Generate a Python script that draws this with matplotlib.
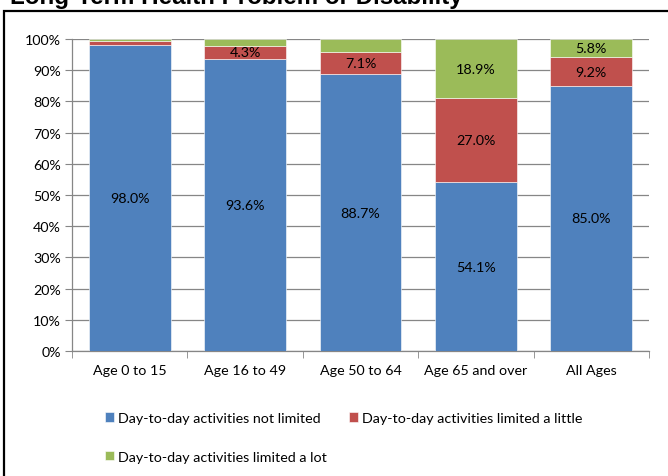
import matplotlib.pyplot as plt
import matplotlib.ticker as ticker
from matplotlib.patches import Rectangle
import numpy as np

categories = ["Age 0 to 15", "Age 16 to 49", "Age 50 to 64", "Age 65 and over", "All Ages"]
not_limited = [98.0, 93.6, 88.7, 54.1, 85.0]
limited_little = [1.4, 4.3, 7.1, 27.0, 9.2]
limited_lot = [0.6, 2.1, 4.2, 18.9, 5.8]

# which segments carry a data label
show_little = [False, True, True, True, True]
show_lot = [False, False, False, True, True]

series_names = [
    "Day-to-day activities not limited",
    "Day-to-day activities limited a little",
    "Day-to-day activities limited a lot",
]
colors = ["#4F81BD", "#C0504D", "#9BBB59"]

plt.rcParams["font.family"] = ["Lato", "DejaVu Sans"]
fs = 10.3

fig = plt.figure(figsize=(6.68, 4.77), dpi=100)
ax = fig.add_axes([0.1078, 0.262, 0.8638, 0.654])

x = np.arange(len(categories))
width = 0.71

b1 = ax.bar(x, not_limited, width, color=colors[0], edgecolor="white", linewidth=0.4,
            label=series_names[0], zorder=3)
b2 = ax.bar(x, limited_little, width, bottom=not_limited, color=colors[1],
            edgecolor="white", linewidth=0.4, label=series_names[1], zorder=3)
bottom3 = np.array(not_limited) + np.array(limited_little)
b3 = ax.bar(x, limited_lot, width, bottom=bottom3, color=colors[2],
            edgecolor="white", linewidth=0.4, label=series_names[2], zorder=3)

# data labels
for i in range(len(categories)):
    ax.text(x[i], not_limited[i] / 2, f"{not_limited[i]:.1f}%", ha="center", va="center",
            fontsize=fs, zorder=4)
    if show_little[i]:
        ax.text(x[i], not_limited[i] + limited_little[i] / 2, f"{limited_little[i]:.1f}%",
                ha="center", va="center", fontsize=fs, zorder=4)
    if show_lot[i]:
        ax.text(x[i], bottom3[i] + limited_lot[i] / 2, f"{limited_lot[i]:.1f}%",
                ha="center", va="center", fontsize=fs, zorder=4)

ax.set_xlim(-0.5, len(categories) - 0.5)
ax.set_ylim(0, 100)
ax.set_yticks(np.arange(0, 101, 10))
ax.yaxis.set_major_formatter(ticker.FuncFormatter(lambda v, p: f"{v:.0f}%"))
ax.set_xticks(x)
ax.set_xticklabels(categories)
ax.set_xticks(np.arange(-0.5, len(categories), 1), minor=True)
ax.tick_params(axis="x", which="major", length=0, pad=9, labelsize=fs)
ax.tick_params(axis="x", which="minor", length=5, color="#868686", direction="out")
ax.tick_params(axis="y", length=5, color="#868686", direction="out", labelsize=fs, pad=3)

ax.grid(axis="y", color="#868686", linewidth=0.9, zorder=0)
for s in ["top", "right"]:
    ax.spines[s].set_visible(False)
for s in ["left", "bottom"]:
    ax.spines[s].set_color("#868686")
    ax.spines[s].set_linewidth(0.9)

# column-wise fill: first column gets "not limited" and "a lot"
fig.legend(handles=[b1, b3, b2],
           labels=[series_names[0], series_names[2], series_names[1]],
           loc="upper left", bbox_to_anchor=(0.148, 0.146), ncol=2, frameon=False,
           fontsize=fs, handlelength=0.65, handleheight=0.65, handletextpad=0.3,
           columnspacing=1.5, labelspacing=1.85, borderaxespad=0)

# chart frame
fig.patches.append(Rectangle((0.006, -0.01), 1.2, 0.985, transform=fig.transFigure,
                             fill=False, edgecolor="black", linewidth=1.6))

fig.text(0.015, 0.9916, "Long-Term Health Problem or Disability", fontsize=17.4,
         fontweight="bold", family="Liberation Sans", ha="left", va="baseline")

fig.savefig("out.png", dpi=100)
